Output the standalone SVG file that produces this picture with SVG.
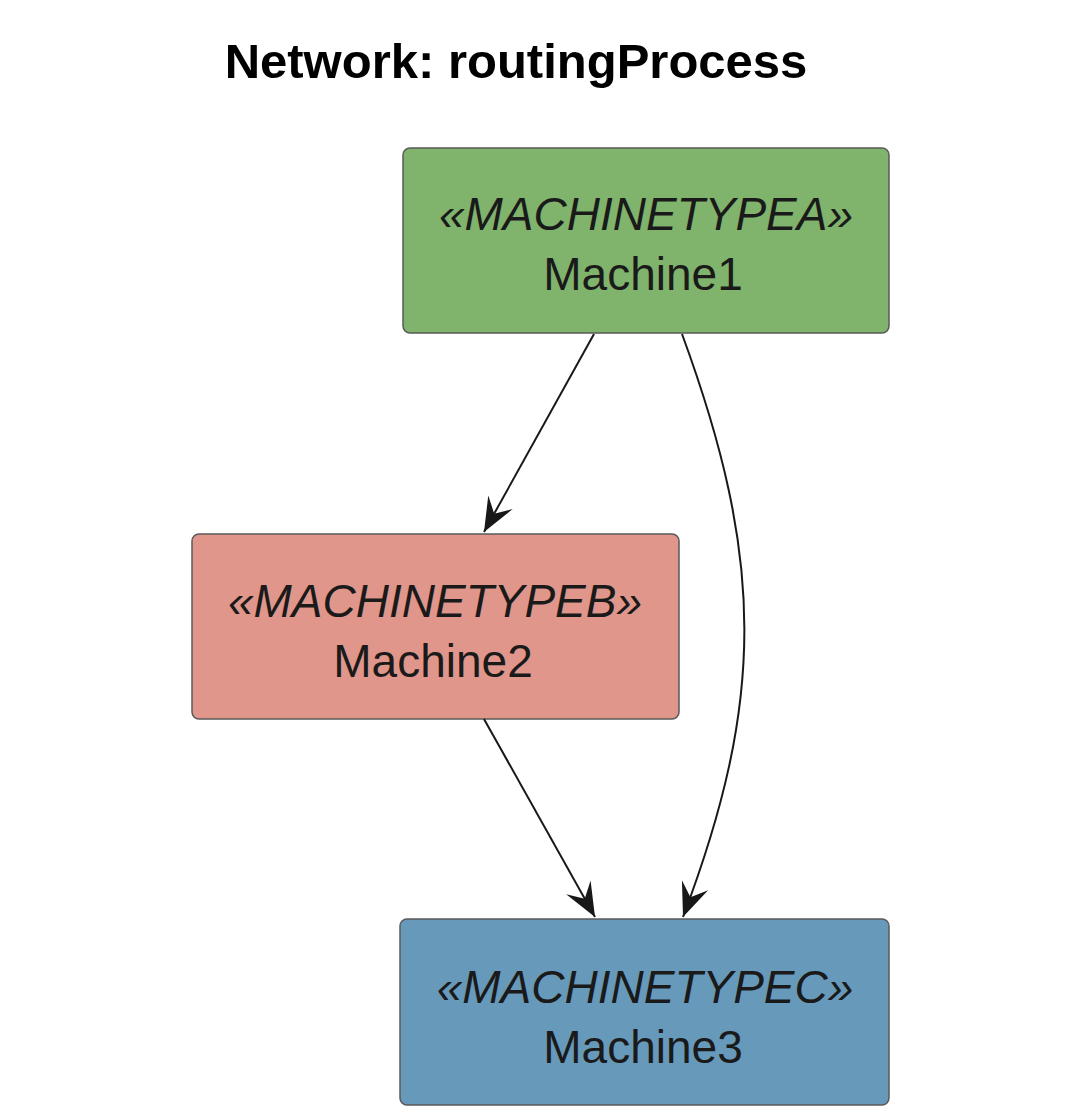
<svg xmlns="http://www.w3.org/2000/svg" width="1067" height="1114" viewBox="0 0 1067 1114">
<style>
.box{stroke:#5a5a5a;stroke-width:1.5}
.st{font-family:"Liberation Sans",Arial,sans-serif;font-size:46px;font-style:italic;fill:#1a1a1a;text-anchor:middle}
.nm{font-family:"Liberation Sans",Arial,sans-serif;font-size:46px;fill:#1a1a1a;text-anchor:middle}
.edge{fill:none;stroke:#181818;stroke-width:2}
</style>
<defs>
<marker id="ah" markerUnits="userSpaceOnUse" viewBox="-36 -16 38 32" refX="0" refY="0" markerWidth="38" markerHeight="32" orient="auto">
<path d="M0,0 L-34,-14 L-21,0 L-34,14 Z" fill="#181818"/>
</marker>
</defs>
<rect width="1067" height="1114" fill="#ffffff"/>
<text x="516" y="78" font-family="Liberation Sans,Arial,sans-serif" font-size="49" font-weight="bold" text-anchor="middle" fill="#000">Network: routingProcess</text>
<g id="Machine1">
<rect class="box" x="403" y="148" width="486" height="185" rx="7" fill="#80B36C"/>
<text class="st" x="646" y="230">«MACHINETYPEA»</text>
<text class="nm" x="643" y="290">Machine1</text>
</g>
<g id="Machine2">
<rect class="box" x="192" y="534" width="487" height="185" rx="7" fill="#E0968A"/>
<text class="st" x="435" y="617">«MACHINETYPEB»</text>
<text class="nm" x="433" y="677">Machine2</text>
</g>
<g id="Machine3">
<rect class="box" x="400" y="919" width="489" height="186" rx="7" fill="#6699BA"/>
<text class="st" x="645" y="1003">«MACHINETYPEC»</text>
<text class="nm" x="643" y="1063">Machine3</text>
</g>
<g id="connectors">
<path class="edge" d="M594,334 L484,532" marker-end="url(#ah)"/>
<path class="edge" d="M682,334 C765,560 765,700 683,917" marker-end="url(#ah)"/>
<path class="edge" d="M484,719 L595,917" marker-end="url(#ah)"/>
</g>
</svg>
